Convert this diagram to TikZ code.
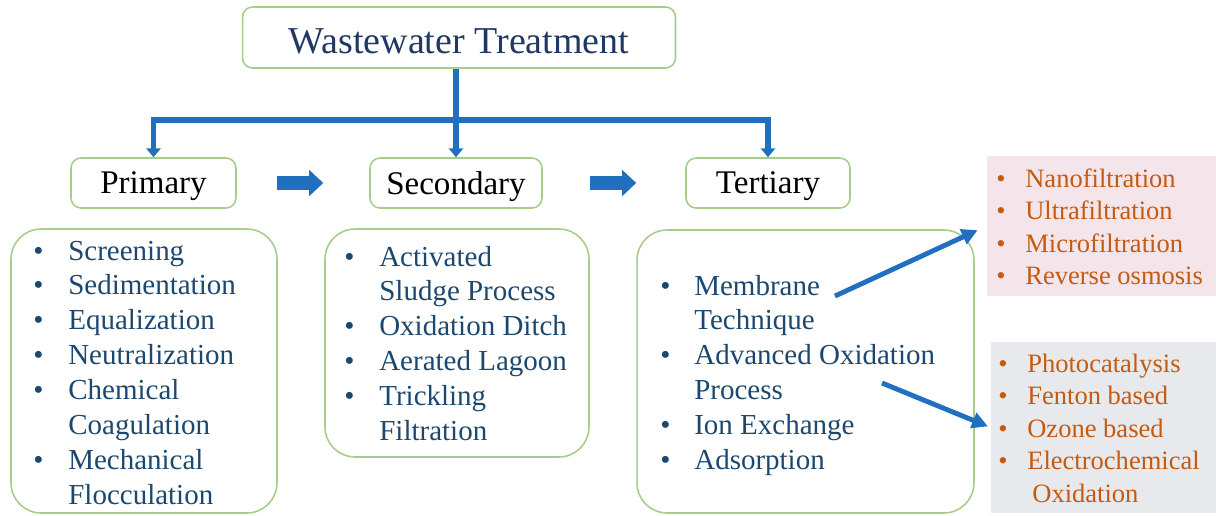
\documentclass[tikz,border=0pt]{standalone}
\usepackage{fontspec}
\setmainfont{Liberation Serif}
\usepackage{array}
\usepackage{tikz}
\usetikzlibrary{arrows.meta, positioning}
\definecolor{boxGreen}{RGB}{168,204,140}
\definecolor{flowBlue}{RGB}{33,112,192}
\definecolor{titleNavy}{RGB}{31,56,100}
\definecolor{listBlue}{RGB}{28,72,112}
\definecolor{sideOrange}{RGB}{197,90,17}
\definecolor{sidePink}{RGB}{244,229,235}
\definecolor{sideGray}{RGB}{231,233,236}
\newcommand{\bulletlist}[2]{\begin{tabular}[t]{@{}p{#1}@{}l@{}}#2\end{tabular}}

\begin{document}
\begin{tikzpicture}[x=0.02cm, y=-0.02cm,
    stagebox/.style={draw=boxGreen, line width=0.9pt, rounded corners=0.2cm, minimum height=1cm, inner sep=0pt, text depth=0pt, font=\fontsize{18.8}{22}\selectfont},
    listbox/.style={draw=boxGreen, line width=0.9pt, rounded corners=0.6cm, inner sep=0pt},
    listtext/.style={inner sep=0pt, anchor=base west, text=listBlue, font=\fontsize{16.5}{19.9}\selectfont},
    sidetext/.style={inner sep=0pt, anchor=base west, text=sideOrange, font=\fontsize{15.1}{18.5}\selectfont},
    tree/.style={flowBlue, line width=3.4pt, -{Triangle[length=5pt,width=8pt]}},
    blockarrow/.style={flowBlue, line width=8pt, -{Triangle[length=8pt,width=14.5pt]}},
    diag/.style={flowBlue, line width=2.8pt, -{Triangle[length=9pt,width=9pt]}}]
    \useasboundingbox (0,0) rectangle (1216,515);

    % title and the three stages
    \node[draw=boxGreen, line width=0.9pt, rounded corners=0.2cm, minimum width=8.66cm, minimum height=1.22cm,
          text height=18pt, text depth=0pt, text=titleNavy, font=\fontsize{21.6}{26}\selectfont] (title) at (459,37.5) {Wastewater Treatment};
    \node[stagebox, minimum width=3.3cm] (prim) at (153.5,183) {Primary};
    \node[stagebox, minimum width=3.44cm] (sec) at (456,183) {Secondary};
    \node[stagebox, minimum width=3.28cm] (ter) at (768,183) {Tertiary};

    % branching
    \coordinate (bus) at (456,120);
    \draw[tree] (sec.north |- title.south) -- (sec.north);
    \draw[tree] (bus) -| (prim.north);
    \draw[tree] (bus) -| (ter.north);
    \draw[blockarrow, shorten <=0.8cm, shorten >=0.92cm] (prim.east) -- (sec.west);
    \draw[blockarrow, shorten <=0.94cm, shorten >=0.98cm] (sec.east) -- (ter.west);

    % lists
    \node[listbox, minimum width=5.32cm, minimum height=5.68cm] (primlist) at (144,371) {};
    \node[listbox, minimum width=5.28cm, minimum height=4.56cm] (seclist) at (457,343) {};
    \node[listbox, minimum width=6.74cm, minimum height=5.66cm] (terlist) at (805.5,371.5) {};
    \node[listtext] (primtext) at (33,260) {\bulletlist{0.7cm}{%
        \textbullet & Screening\\ \textbullet & Sedimentation\\ \textbullet & Equalization\\
        \textbullet & Neutralization\\ \textbullet & Chemical\\ & Coagulation\\
        \textbullet & Mechanical\\ & Flocculation}};
    \node[listtext] (sectext) at (344,266) {\bulletlist{0.7cm}{%
        \textbullet & Activated\\ & Sludge Process\\ \textbullet & Oxidation Ditch\\
        \textbullet & Aerated Lagoon\\ \textbullet & Trickling\\ & Filtration}};
    \node[listtext] (tertext) at (660,295) {\bulletlist{0.68cm}{%
        \textbullet & Membrane\\ & Technique\\ \textbullet & Advanced Oxidation\\
        & Process\\ \textbullet & Ion Exchange\\ \textbullet & Adsorption}};

    % tertiary options
    \node[fill=sidePink, minimum width=4.58cm, minimum height=2.8cm, inner sep=0pt] (pinkbox) at (1101.5,226) {};
    \node[fill=sideGray, minimum width=4.5cm, minimum height=3.42cm, inner sep=0pt] (graybox) at (1103.5,427.5) {};
    \node[sidetext] (membtext) at (996,187) {\bulletlist{0.58cm}{%
        \textbullet & Nanofiltration\\ \textbullet & Ultrafiltration\\
        \textbullet & Microfiltration\\ \textbullet & Reverse osmosis}};
    \node[sidetext] (aoptext) at (998,372) {\bulletlist{0.58cm}{%
        \textbullet & Photocatalysis\\ \textbullet & Fenton based\\ \textbullet & Ozone based\\
        \textbullet & Electrochemical\\ & \hspace{0.1cm}Oxidation}};

    \coordinate (memb) at (835,296);
    \coordinate (aop) at (882,383);
    \draw[diag, shorten >=0.2cm] (memb) -- (pinkbox.west);
    \draw[diag, shorten >=0.06cm] (aop) -- (graybox.west);
\end{tikzpicture}
\end{document}
